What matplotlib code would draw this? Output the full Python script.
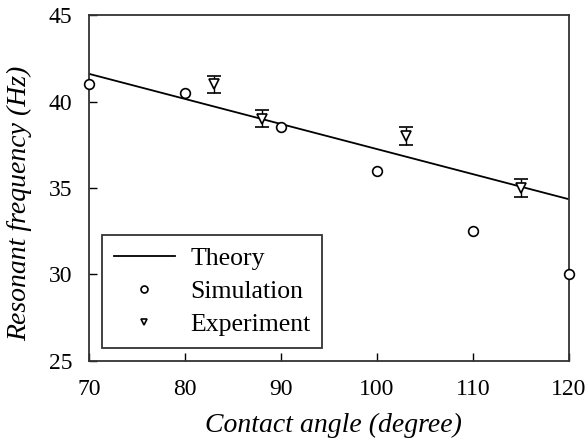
import matplotlib
matplotlib.use("Agg")
import matplotlib.pyplot as plt
from matplotlib.lines import Line2D

plt.rcParams['font.family'] = ['Liberation Serif', 'DejaVu Serif']

theory_x = [70, 120]
theory_y = [41.6, 34.35]
sim_x = [70, 80, 90, 100, 110, 120]
sim_y = [41.0, 40.5, 38.5, 36.0, 32.5, 30.0]
exp_x = [83, 88, 103, 115]
exp_y = [41.0, 39.0, 38.0, 35.0]
exp_err = [0.5, 0.5, 0.5, 0.5]
xticks = [70, 80, 90, 100, 110, 120]
yticks = [25, 30, 35, 40, 45]

fig = plt.figure(figsize=(5.87, 4.42), dpi=100)
ax = fig.add_axes([0.1516, 0.1833, 0.8177, 0.7827])

ax.plot(theory_x, theory_y, color='black', lw=1.3, label='Theory')
ax.plot(sim_x, sim_y, linestyle='none', marker='o', ms=7, mfc='white', mec='black', mew=1.2,
        label='Simulation', clip_on=False, zorder=5)
ax.errorbar(exp_x, exp_y, yerr=exp_err, linestyle='none', marker='v', ms=7, mfc='white',
            mec='black', mew=1.2, ecolor='black', elinewidth=1.0, capsize=5, capthick=1.0,
            label='Experiment', zorder=4)

ax.set_xlim(70, 120)
ax.set_ylim(25, 45)
ax.set_xticks(xticks)
ax.set_yticks(yticks)
ax.tick_params(direction='in', length=6, width=1, labelsize=17, top=False, right=False)
ax.tick_params(axis='x', pad=13)
ax.tick_params(axis='y', pad=12)
for s in ax.spines.values():
    s.set_linewidth(1.3)
    s.set_color('#333333')

ax.set_xlabel('Contact angle (degree)', fontsize=20, style='italic')
ax.set_ylabel('Resonant frequency (Hz)', fontsize=20, style='italic')
ax.xaxis.set_label_coords(0.51, -0.15)
ax.yaxis.set_label_coords(-0.118, 0.455)

h_sim = Line2D([], [], linestyle='none', marker='o', ms=5, mfc='white', mec='black', mew=1.2)
h_exp = Line2D([], [], linestyle='none', marker='v', ms=5, mfc='white', mec='black', mew=1.2)
h_th = Line2D([], [], color='black', lw=1.3)
leg = ax.legend([h_th, h_sim, h_exp], ['Theory', 'Simulation', 'Experiment'], loc='lower left',
                bbox_to_anchor=(0.027, 0.038), borderaxespad=0, fontsize=18.5, frameon=True,
                fancybox=False, edgecolor='black', handlelength=2.4, handletextpad=0.6,
                borderpad=0.45, labelspacing=0.4)
leg.get_frame().set_linewidth(1.3)

fig.savefig('out.png', dpi=100)
